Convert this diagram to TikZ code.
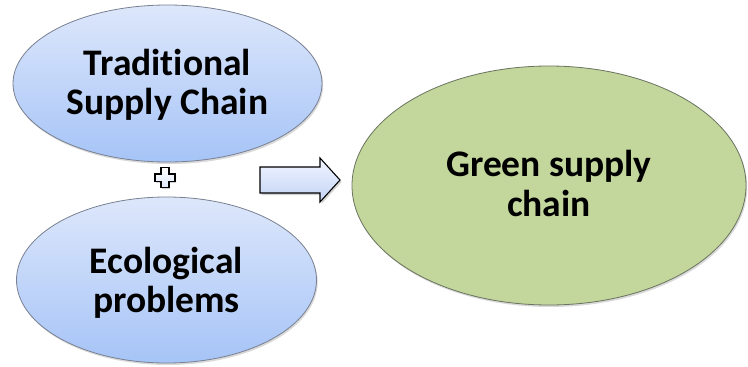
\documentclass[tikz,border=0pt]{standalone}
\usepackage{fontspec}
\setmainfont{Carlito}[Ligatures={NoCommon}]
\usetikzlibrary{shapes.geometric,shadows}
\definecolor{bluetop}{RGB}{221,231,251}
\definecolor{bluebot}{RGB}{166,196,247}
\definecolor{greenfill}{RGB}{195,214,155}
\definecolor{blueedge}{RGB}{120,128,145}
\definecolor{greenedge}{RGB}{105,115,95}
\definecolor{arrtop}{RGB}{240,244,255}
\definecolor{arrbot}{RGB}{196,212,245}
\tikzset{
  txt/.style={font=\bfseries\fontsize{37.5}{39.5}\selectfont, align=center, text=black},
  blueell/.style={ellipse, draw=blueedge, line width=0.8pt, top color=bluetop, bottom color=bluebot,
    inner sep=0pt, txt, drop shadow={opacity=0.3, shadow xshift=1.2pt, shadow yshift=-2pt}},
  greenell/.style={ellipse, draw=greenedge, line width=0.8pt, fill=greenfill,
    inner sep=0pt, txt, drop shadow={opacity=0.3, shadow xshift=1.2pt, shadow yshift=-2pt}},
  blockarrow/.style={draw=black, line width=1.1pt, top color=arrtop, bottom color=arrbot,
    drop shadow={opacity=0.35, shadow xshift=1.5pt, shadow yshift=-2pt}},
  plusmark/.style={draw=black, line width=1.6pt, top color=white, bottom color=bluetop,
    drop shadow={opacity=0.35, shadow xshift=1pt, shadow yshift=-1.5pt}}
}
\begin{document}
\begin{tikzpicture}[x=1pt,y=-1pt]
\useasboundingbox (0,0) rectangle (748,367);
\node[blueell, minimum width=309pt, minimum height=157pt, text depth=3pt] (trad) at (167.5,83.5) {Traditional\\Supply Chain};
\node[blueell, minimum width=300pt, minimum height=166pt, text depth=-5pt] (eco) at (166.5,280) {Ecological\\problems};
\node[greenell, minimum width=394pt, minimum height=239pt, text depth=4pt] (green) at (549,185.5) {Green supply\\chain};
% plus sign
\coordinate (pc) at (165,177.5);
\path[plusmark] ([shift={(-3.8,-10)}]pc) -- ([shift={(3.8,-10)}]pc) -- ([shift={(3.8,-3.8)}]pc)
  -- ([shift={(10,-3.8)}]pc) -- ([shift={(10,3.8)}]pc) -- ([shift={(3.8,3.8)}]pc)
  -- ([shift={(3.8,10)}]pc) -- ([shift={(-3.8,10)}]pc) -- ([shift={(-3.8,3.8)}]pc)
  -- ([shift={(-10,3.8)}]pc) -- ([shift={(-10,-3.8)}]pc) -- ([shift={(-3.8,-3.8)}]pc) -- cycle;
% block arrow
\path[blockarrow] (260,167) -- (320,167) -- (320,158) -- (340,180) -- (320,202) -- (320,193) -- (260,193) -- cycle;
\end{tikzpicture}
\end{document}
